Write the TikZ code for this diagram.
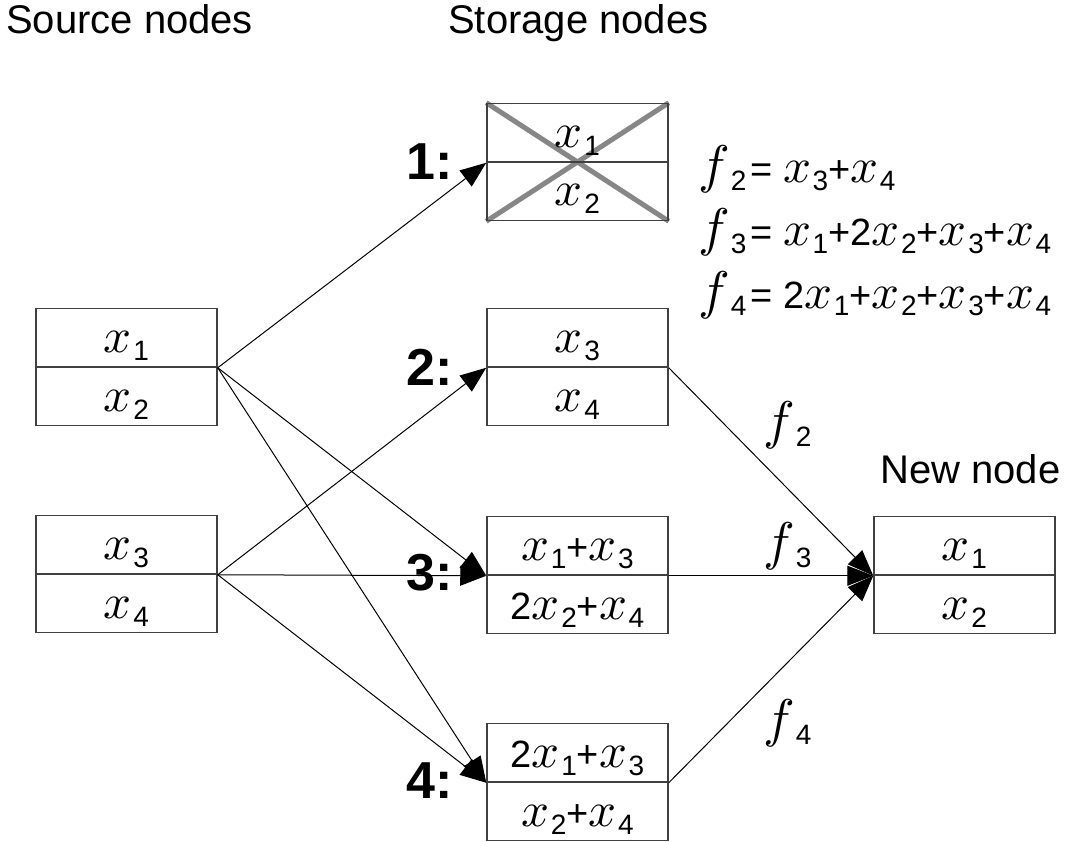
\documentclass[tikz,border=0pt]{standalone}
\usepackage{fontspec}
\usepackage{graphicx}
\setmainfont{Liberation Sans}
\usetikzlibrary{arrows.meta,backgrounds}
\newcommand\MI[2]{\scalebox{#1}{\fontsize{10}{12}\selectfont$#2$}}
\newcommand\X[1]{\MI{4.9}{x}\kern1.5pt\raisebox{-8pt}{\fontsize{28}{30}\selectfont #1}}
\newcommand\F[1]{\MI{5.3}{f}\kern1pt\raisebox{-8pt}{\fontsize{28}{30}\selectfont #1}}
\tikzset{
  cell/.style={draw=black!75, line width=1.5pt, minimum width=181pt, minimum height=58.5pt,
    inner sep=0pt, text height=44pt, text depth=14.5pt, font=\fontsize{38}{40}\selectfont},
  title/.style={anchor=base west, inner sep=0pt, font=\fontsize{40}{44}\selectfont},
  num/.style={anchor=base, inner sep=0pt, font=\fontsize{52}{56}\selectfont\bfseries},
  eq/.style={anchor=base west, inner sep=0pt, font=\fontsize{38}{40}\selectfont},
  arr/.style={-{Triangle[length=26pt,width=20pt]}, line width=1pt, black},
  cross/.style={draw=black!47, line width=5pt}
}
\begin{document}
\begin{tikzpicture}[x=1pt,y=-1pt]
\useasboundingbox (0,0) rectangle (1065,842);
% titles
\node[title] (tsrc) at (6,34) {Source nodes};
\node[title] (tsto) at (448,34) {Storage nodes};
\node[title] (tnew) at (880,483) {New node};
% source nodes
\node[cell] (a1) at (126.5,337.75) {\X{1}};
\node[cell] (a2) at (126.5,396.25) {\X{2}};
\node[cell] (b1) at (126.5,544.75) {\X{3}};
\node[cell] (b2) at (126.5,603.25) {\X{4}};
% storage nodes
\node[cell] (s1a) at (577.5,132.75) {\X{1}};
\node[cell] (s1b) at (577.5,191.25) {\X{2}};
\node[cell] (s2a) at (577.5,337.75) {\X{3}};
\node[cell] (s2b) at (577.5,396.25) {\X{4}};
\node[cell] (s3a) at (577.5,545.75) {\X{1}+\X{3}};
\node[cell] (s3b) at (577.5,604.25) {2\X{2}+\X{4}};
\node[cell] (s4a) at (577.5,752.75) {2\X{1}+\X{3}};
\node[cell] (s4b) at (577.5,811.25) {\X{2}+\X{4}};
% new node
\node[cell] (n1) at (964.5,545.75) {\X{1}};
\node[cell] (n2) at (964.5,604.25) {\X{2}};
% cross on failed node
\begin{pgfonlayer}{background}
\draw[cross] (s1a.north west) -- (s1b.south east);
\draw[cross] (s1a.north east) -- (s1b.south west);
\end{pgfonlayer}
% numbers
\node[num] (l1) at (430,180) {1:};
\node[num] (l2) at (430,385) {2:};
\node[num] (l3) at (430,590) {3:};
\node[num] (l4) at (430,798) {4:};
% equations
\node[eq] (e2) at (698,183) {\F{2}\kern4pt= \X{3}+\X{4}};
\node[eq] (e3) at (698,246) {\F{3}\kern4pt= \X{1}+2\X{2}+\X{3}+\X{4}};
\node[eq] (e4) at (698,308) {\F{4}\kern4pt= 2\X{1}+\X{2}+\X{3}+\X{4}};
% arrows from sources
\draw[arr] (a1.south east) -- (s1a.south west);
\draw[arr] (a1.south east) -- (s3a.south west);
\draw[arr] (a1.south east) -- (s4a.south west);
\draw[arr] (b1.south east) -- (s2a.south west);
\draw[arr] (b1.south east) -- (s3a.south west);
\draw[arr] (b1.south east) -- (s4a.south west);
% arrows to new node
\draw[arr] (s2a.south east) -- (n1.south west);
\draw[arr] (s3a.south east) -- (n1.south west);
\draw[arr] (s4a.south east) -- (n1.south west);
% f labels
\node[eq] (f2) at (763,438) {\F{2}};
\node[eq] (f3) at (763,559) {\F{3}};
\node[eq] (f4) at (763,736) {\F{4}};
\end{tikzpicture}
\end{document}
